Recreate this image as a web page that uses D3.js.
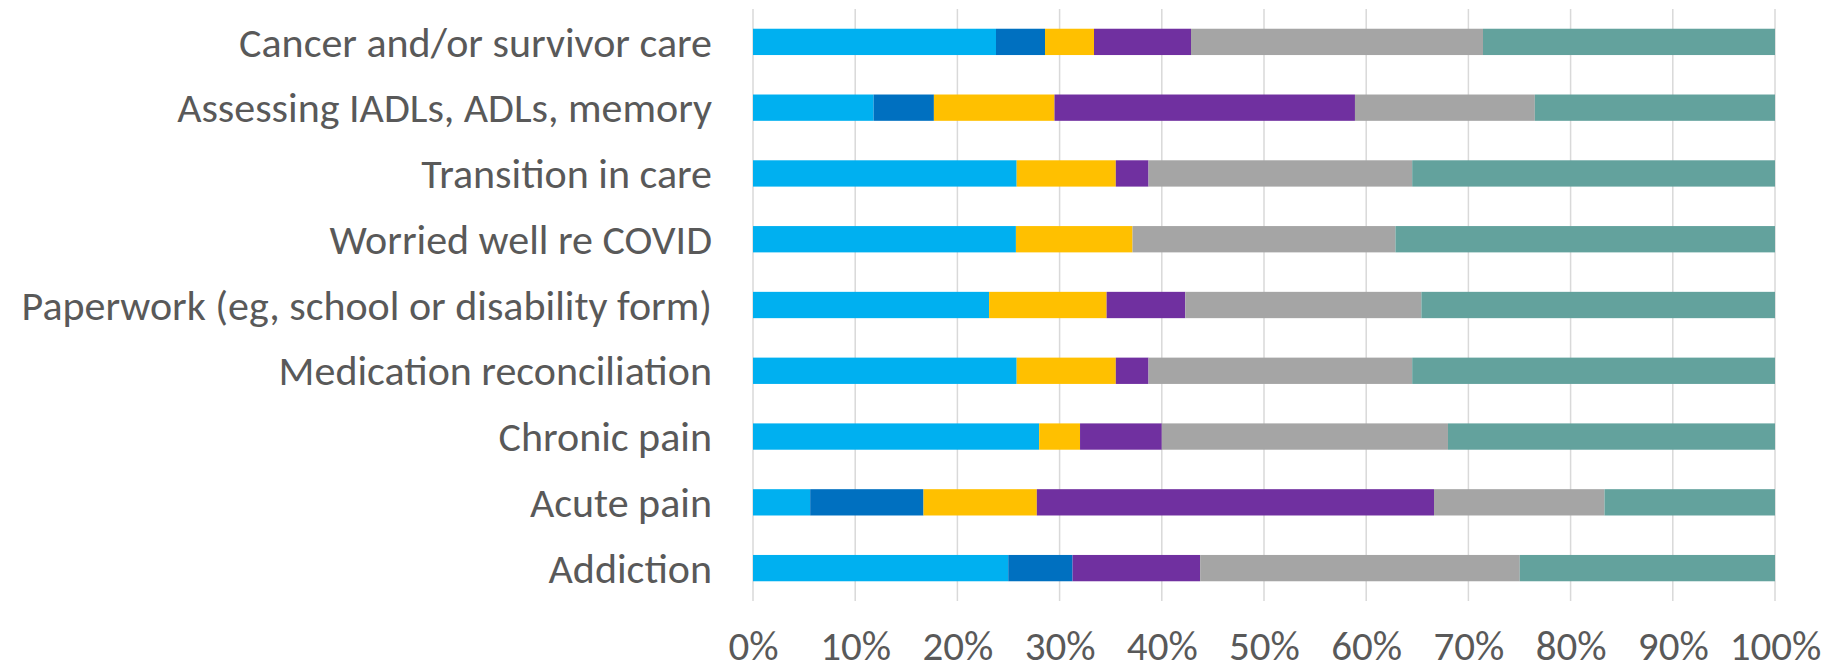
<!DOCTYPE html>
<html>
<head>
<meta charset="utf-8">
<script src="https://cdn.jsdelivr.net/npm/d3@7"></script>
<style>
  body { margin: 0; background: #fff; }
  text { font-family: Carlito, Calibri, Lato, sans-serif; fill: #595959; }
</style>
</head>
<body>
<svg id="chart" width="1837" height="672"></svg>
<script>
// categories, top to bottom
const categories = [
    "Cancer and/or survivor care",
    "Assessing IADLs, ADLs, memory",
    "Transition in care",
    "Worried well re COVID",
    "Paperwork (eg, school or disability form)",
    "Medication reconciliation",
    "Chronic pain",
    "Acute pain",
    "Addiction"
];

// series values (% of row)
const series1 = [23.8, 11.8, 25.8, 25.7, 23.1, 25.8, 28.0, 5.6, 25.0];
const series2 = [4.8, 5.9, 0, 0, 0, 0, 0, 11.1, 6.3];
const series3 = [4.8, 11.8, 9.7, 11.4, 11.5, 9.7, 4.0, 11.1, 0];
const series4 = [9.5, 29.4, 3.2, 0, 7.7, 3.2, 8.0, 38.9, 12.5];
const series5 = [28.6, 17.6, 25.8, 25.7, 23.1, 25.8, 28.0, 16.7, 31.3];
const series6 = [28.6, 23.5, 35.5, 37.1, 34.6, 35.5, 32.0, 16.7, 25.0];

const tickValues = [0, 0.1, 0.2, 0.3, 0.4, 0.5, 0.6, 0.7, 0.8, 0.9, 1];

const seriesKeys = ["s1", "s2", "s3", "s4", "s5", "s6"];
const colors = ["#00B0F0", "#0070C0", "#FFC000", "#7030A0", "#A5A5A5", "#63A29D"];

const rows = categories.map((c, i) => ({
    category: c,
    s1: series1[i], s2: series2[i], s3: series3[i],
    s4: series4[i], s5: series5[i], s6: series6[i]
}));

const svg = d3.select("#chart");
const plotLeft = 753, plotRight = 1775, plotTop = 9, plotBottom = 601;

const x = d3.scaleLinear().domain([0, 1]).range([plotLeft, plotRight]);
const y = d3.scaleBand().domain(categories).range([plotTop, plotBottom])
    .paddingInner(0.6).paddingOuter(0.3);

// gridlines
svg.append("g")
    .selectAll("line")
    .data(tickValues)
    .enter().append("line")
    .attr("x1", d => x(d)).attr("x2", d => x(d))
    .attr("y1", plotTop).attr("y2", plotBottom)
    .style("stroke", "#D9D9D9")
    .style("stroke-width", 1.5);

const stacked = d3.stack()
    .keys(seriesKeys)
    .offset(d3.stackOffsetExpand)(rows);

svg.append("g")
    .selectAll("g")
    .data(stacked)
    .enter().append("g")
    .attr("fill", (d, i) => colors[i])
    .selectAll("rect")
    .data(d => d)
    .enter().append("rect")
    .attr("x", d => x(d[0]))
    .attr("y", d => y(d.data.category))
    .attr("width", d => x(d[1]) - x(d[0]))
    .attr("height", y.bandwidth());

// category labels
const yAxis = svg.append("g")
    .attr("transform", `translate(${plotLeft},0)`)
    .call(d3.axisLeft(y).tickSize(0).tickPadding(41));
yAxis.select(".domain").remove();
yAxis.selectAll("text")
    .style("font-size", "42px")
    .attr("dy", "0.35em");

// percent axis
const xAxis = svg.append("g")
    .attr("transform", `translate(0,${plotBottom})`)
    .call(d3.axisBottom(x).tickValues(tickValues).tickFormat(d3.format(".0%")).tickSize(0).tickPadding(30));
xAxis.select(".domain").remove();
xAxis.selectAll("text")
    .style("font-size", "41px");
</script>
</body>
</html>
